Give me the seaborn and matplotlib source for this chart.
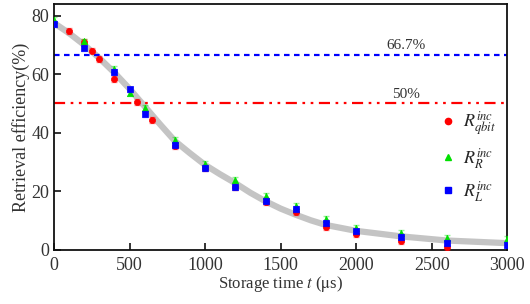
import matplotlib
matplotlib.use("Agg")
import matplotlib.pyplot as plt
import seaborn as sns
import pandas as pd
from matplotlib.lines import Line2D

# ---- data ----
t_qbit = [100, 200, 250, 300, 400, 550, 650, 800, 1000, 1200, 1400, 1600, 1800, 2000, 2300, 2600]
r_qbit = [74.7, 70.9, 68.1, 65.1, 58.5, 50.6, 44.3, 35.5, 28.0, 21.5, 16.3, 12.8, 7.8, 5.4, 2.9, 1.1]

t_R = [0, 200, 400, 500, 600, 800, 1000, 1200, 1400, 1600, 1800, 2000, 2300, 2600, 3000]
r_R = [78.5, 71.2, 61.9, 53.5, 48.6, 37.7, 29.5, 24.0, 18.5, 14.9, 10.5, 7.4, 5.7, 4.0, 3.7]

t_L = [0, 200, 400, 500, 600, 800, 1000, 1200, 1400, 1600, 1800, 2000, 2300, 2600, 3000]
r_L = [77.1, 68.8, 60.7, 54.8, 46.5, 35.8, 28.1, 21.5, 16.6, 14.0, 9.1, 6.3, 4.3, 2.3, 1.7]

t_fit = [0, 100, 200, 300, 400, 500, 600, 700, 800, 900, 1000, 1100, 1200, 1300, 1400,
         1500, 1600, 1700, 1800, 2000, 2300, 2600, 3000]
r_fit = [77.5, 74.0, 70.0, 65.5, 60.5, 55.0, 49.0, 43.0, 37.2, 33.0, 29.0, 25.8, 22.8, 19.5, 16.6,
         14.1, 12.0, 10.1, 8.5, 6.5, 4.6, 3.2, 2.3]

err = 1.0
ref_lines = [66.7, 50.0]
ref_labels = ["66.7%", "50%"]
xticks = [0, 500, 1000, 1500, 2000, 2500, 3000]
yticks = [0, 20, 40, 60, 80]

sns.set_theme(style="ticks")
plt.rcParams["font.family"] = ["Liberation Serif", "DejaVu Serif"]
plt.rcParams["mathtext.fontset"] = "stix"

fig = plt.figure(figsize=(5.30, 3.04), dpi=100)
ax = fig.add_axes([0.102, 0.178, 0.855, 0.809])

# fit curve
sns.lineplot(x=t_fit, y=r_fit, ax=ax, color="#c4c4c4", lw=4.5, zorder=1)

# reference lines
ax.axhline(ref_lines[0], color="#0000ff", lw=1.6, dashes=(2.5, 2.0), zorder=2)
ax.axhline(ref_lines[1], color="#ff0000", lw=1.6, dashes=(5, 2.5, 1.2, 2.5, 1.2, 2.5), zorder=2)
ax.text(2330, ref_lines[0] + 0.8, ref_labels[0], ha="center", va="bottom", fontsize=11, color="#333333")
ax.text(2330, ref_lines[1] + 0.8, ref_labels[1], ha="center", va="bottom", fontsize=11, color="#333333")

series = [
    (t_qbit, r_qbit, "#ff0000", "o", r"$R_{qbit}^{inc}$"),
    (t_R, r_R, "#00e000", "^", r"$R_{R}^{inc}$"),
    (t_L, r_L, "#0000ff", "s", r"$R_{L}^{inc}$"),
]
handles = []
for i, (tx, ry, c, m, lab) in enumerate(series):
    ax.errorbar(tx, ry, yerr=err, fmt="none", ecolor=c, alpha=0.4, elinewidth=1.2,
                capsize=2.5, capthick=1.0, zorder=3 + i)
    df = pd.DataFrame({"t": tx, "r": ry})
    sns.scatterplot(data=df, x="t", y="r", ax=ax, color=c, marker=m, s=20,
                    edgecolor=c, linewidth=0.5, zorder=4 + i)
    handles.append(Line2D([], [], ls="none", marker=m, color=c, markersize=4.5))

leg = ax.legend(handles, [s[4] for s in series], loc="upper left",
                bbox_to_anchor=(0.83, 0.60), frameon=False, fontsize=13,
                handletextpad=0.2, labelspacing=0.45, handlelength=1.2,
                borderaxespad=0)

ax.set_xlim(0, 3000)
ax.set_ylim(0, 84)
ax.set_xticks(xticks)
ax.set_yticks(yticks)
ax.tick_params(axis="both", direction="in", length=5, width=1.2, labelsize=13,
               labelcolor="#333333", color="#111111")
ax.tick_params(axis="x", pad=5)
for s in ax.spines.values():
    s.set_visible(True)
    s.set_linewidth(1.3)
    s.set_color("#111111")

ax.set_xlabel(r"Storage time $t$ ($\mathrm{\mu}$s)", fontsize=12, color="#333333", labelpad=0)
ax.set_ylabel("Retrieval efficiency(%)", fontsize=13, color="#333333", labelpad=1)

fig.savefig("out.png", dpi=100)
